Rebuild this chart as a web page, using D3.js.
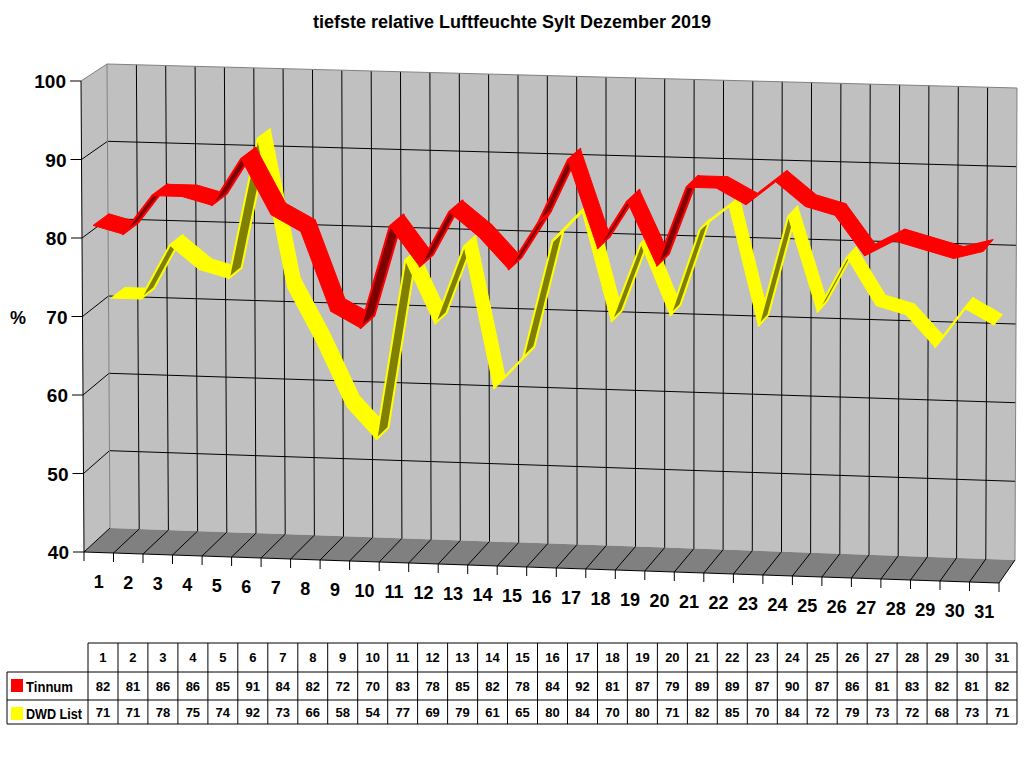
<!DOCTYPE html>
<html>
<head>
<meta charset="utf-8">
<script src="https://cdn.jsdelivr.net/npm/d3@7"></script>
<style>
  body { margin: 0; background: #fff; }
  svg { display: block; font-family: Arial, "Liberation Sans", sans-serif; }
</style>
</head>
<body>
<svg id="chart" width="1024" height="768"></svg>
<script>
// Data
const days = d3.range(1, 32);
const tinnum = [82, 81, 86, 86, 85, 91, 84, 82, 72, 70, 83, 78, 85, 82, 78, 84, 92, 81, 87, 79, 89, 89, 87, 90, 87, 86, 81, 83, 82, 81, 82];
const dwdList = [71, 71, 78, 75, 74, 92, 73, 66, 58, 54, 77, 69, 79, 61, 65, 80, 84, 70, 80, 71, 82, 85, 70, 84, 72, 79, 73, 72, 68, 73, 71];
const yTicks = [40, 50, 60, 70, 80, 90, 100];
const seriesNames = ["Tinnum", "DWD List"];

const svg = d3.select("#chart");

// category space -> 0..1, value -> 0..1
const xScale = d3.scaleLinear().domain([0, days.length]).range([0, 1]);
const yScale = d3.scaleLinear().domain([40, 100]).range([0, 1]);

// corners of the 3d box (front plane z=0, back wall z=1)
const front = { lb: [84, 552], rb: [999, 583], lt: [81, 81], rt: [1001, 106] };
const back = { lb: [110, 528], rb: [1015, 560], lt: [107, 64], rt: [1017, 88] };

function bilerp(c, u, v) {
    let bx = c.lb[0] + (c.rb[0] - c.lb[0]) * u, by = c.lb[1] + (c.rb[1] - c.lb[1]) * u;
    let tx = c.lt[0] + (c.rt[0] - c.lt[0]) * u, ty = c.lt[1] + (c.rt[1] - c.lt[1]) * u;
    return [bx + (tx - bx) * v, by + (ty - by) * v];
}
function project(u, v, z) {
    let f = bilerp(front, u, v), b = bilerp(back, u, v);
    return [f[0] + (b[0] - f[0]) * z, f[1] + (b[1] - f[1]) * z];
}
const poly = pts => "M" + pts.map(p => p[0].toFixed(1) + "," + p[1].toFixed(1)).join("L") + "Z";
const line = (a, b) => "M" + a[0].toFixed(1) + "," + a[1].toFixed(1) + "L" + b[0].toFixed(1) + "," + b[1].toFixed(1);

// Title
svg.append("text")
    .attr("x", 512).attr("y", 28)
    .attr("text-anchor", "middle")
    .attr("font-size", 18).attr("font-weight", "bold")
    .text("tiefste relative Luftfeuchte Sylt Dezember 2019");

// Walls
let walls = svg.append("g");
walls.append("path")
    .attr("d", poly([project(0, 0, 0), project(0, 1, 0), project(0, 1, 1), project(0, 0, 1)]))
    .attr("fill", "#c0c0c0");
walls.append("path")
    .attr("d", poly([project(0, 0, 1), project(1, 0, 1), project(1, 1, 1), project(0, 1, 1)]))
    .attr("fill", "#c0c0c0");
walls.append("path")
    .attr("d", poly([project(0, 0, 0), project(1, 0, 0), project(1, 0, 1), project(0, 0, 1)]))
    .attr("fill", "#808080");

// gridlines
let grid = walls.append("g").attr("fill", "none").attr("stroke-width", 1);
yTicks.slice(1, -1).forEach(t => {
    let v = yScale(t);
    grid.append("path").attr("d", line(project(0, v, 0), project(0, v, 1))).attr("stroke", "#000");
    grid.append("path").attr("d", line(project(0, v, 1), project(1, v, 1))).attr("stroke", "#000");
});
d3.range(1, days.length).forEach(k => {
    let u = xScale(k);
    grid.append("path").attr("d", line(project(u, 0, 1), project(u, 1, 1))).attr("stroke", "#000");
});
d3.range(0, days.length + 1).forEach(k => {
    let u = xScale(k);
    grid.append("path").attr("d", line(project(u, 0, 0), project(u, 0, 1))).attr("stroke", "#000");
});
// wall edges
grid.append("path").attr("d", line(project(0, 1, 0), project(0, 1, 1))).attr("stroke", "#808080");
grid.append("path").attr("d", line(project(0, 1, 1), project(1, 1, 1))).attr("stroke", "#808080");
grid.append("path").attr("d", line(project(1, 1, 1), project(1, 0, 1))).attr("stroke", "#808080");
grid.append("path").attr("d", line(project(0, 0, 1), project(0, 1, 1))).attr("stroke", "#808080");

// Y axis
let yAxis = svg.append("g");
yAxis.append("path").attr("d", line(project(0, 0, 0), project(0, 1, 0))).attr("stroke", "#000");
yTicks.forEach(t => {
    let p = project(0, yScale(t), 0);
    yAxis.append("path").attr("d", line([p[0] - 11, p[1]], p)).attr("stroke", "#000");
    yAxis.append("text")
        .attr("x", p[0] - 15).attr("y", p[1] + 7)
        .attr("text-anchor", "end")
        .attr("font-size", 19).attr("font-weight", "bold")
        .text(t);
});
svg.append("text")
    .attr("x", 18).attr("y", 324)
    .attr("text-anchor", "middle")
    .attr("font-size", 18).attr("font-weight", "bold")
    .text("%");

// X axis
let xAxis = svg.append("g");
xAxis.append("path").attr("d", line(project(0, 0, 0), project(1, 0, 0))).attr("stroke", "#000");
d3.range(0, days.length + 1).forEach(k => {
    let p = project(xScale(k), 0, 0);
    xAxis.append("path").attr("d", line(p, [p[0], p[1] + 9])).attr("stroke", "#000");
});
days.forEach((d, i) => {
    let p = project(xScale(i + 0.5), 0, 0);
    xAxis.append("text")
        .attr("x", p[0]).attr("y", p[1] + 35)
        .attr("text-anchor", "middle")
        .attr("font-size", 18).attr("font-weight", "bold")
        .text(d);
});

// Ribbons, back row first
let series = [
    { values: dwdList, z0: 0.54, z1: 1.06, color: "#ffff00", dark: "#808000" },
    { values: tinnum, z0: -0.14, z1: 0.47, color: "#ff0000", dark: "#800000" }
];
series.forEach(s => {
    let g = svg.append("g");
    for (let i = 0; i < s.values.length - 1; i++) {
        let u0 = xScale(i + 0.5), u1 = xScale(i + 1.5);
        let v0 = yScale(s.values[i]), v1 = yScale(s.values[i + 1]);
        let pts = [project(u0, v0, s.z0), project(u1, v1, s.z0), project(u1, v1, s.z1), project(u0, v0, s.z1)];
        let area = d3.polygonArea(pts); // sign tells which face we see
        let under = area < 0;
        g.append("path")
            .attr("d", poly(pts))
            .attr("fill", under ? s.dark : s.color)
            .attr("stroke", s.color)
            .attr("stroke-width", under ? 2 : 1)
            .attr("stroke-linejoin", "round");
    }
});

// Data table
let cols = d3.scaleBand().domain(days).range([88, 1017]);
let rows = [643, 672, 700, 724];
let table = svg.append("g").attr("stroke", "#000").attr("stroke-width", 1).attr("fill", "none");
table.append("path").attr("d", line([88, rows[0]], [1017, rows[0]]));
rows.slice(1).forEach(y => table.append("path").attr("d", line([7, y], [1017, y])));
table.append("path").attr("d", line([7, rows[1]], [7, rows[3]]));
days.forEach(d => table.append("path").attr("d", line([cols(d), rows[0]], [cols(d), rows[3]])));
table.append("path").attr("d", line([1017, rows[0]], [1017, rows[3]]));

let cells = svg.append("g").attr("font-size", 13).attr("font-weight", "bold").attr("text-anchor", "middle");
days.forEach((d, i) => {
    let cx = cols(d) + cols.bandwidth() / 2;
    cells.append("text").attr("x", cx).attr("y", rows[0] + 19).text(d);
    cells.append("text").attr("x", cx).attr("y", rows[1] + 19).text(tinnum[i]);
    cells.append("text").attr("x", cx).attr("y", rows[2] + 17).text(dwdList[i]);
});
[["#ff0000", rows[1]], ["#ffff00", rows[2]]].forEach((r, j) => {
    svg.append("rect").attr("x", 11).attr("y", r[1] + 7).attr("width", 12).attr("height", 13).attr("fill", r[0]);
    svg.append("text")
        .attr("x", 26).attr("y", r[1] + (j === 0 ? 20 : 19))
        .attr("font-size", 14).attr("font-weight", "bold")
        .attr("textLength", j === 0 ? 47 : 56).attr("lengthAdjust", "spacingAndGlyphs")
        .text(seriesNames[j]);
});
</script>
</body>
</html>
